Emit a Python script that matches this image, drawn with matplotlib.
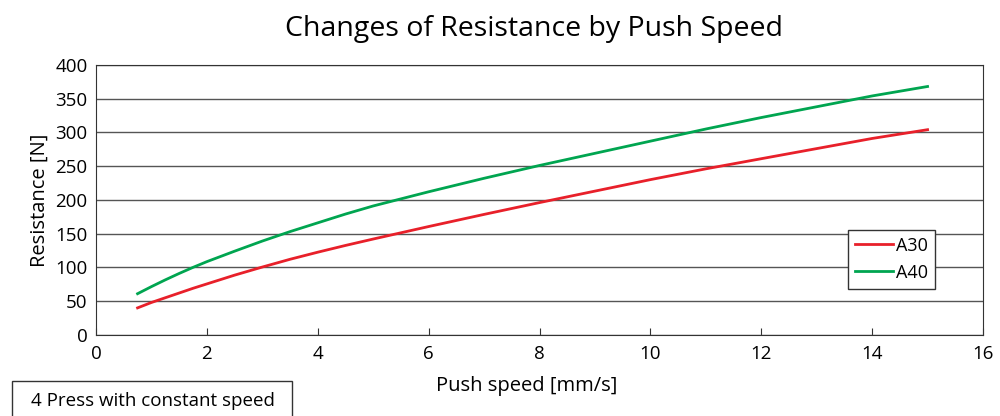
import matplotlib
matplotlib.use("Agg")
import matplotlib.pyplot as plt
from matplotlib.patches import Rectangle

plt.rcParams["font.family"] = ["Open Sans", "DejaVu Sans"]

# Values
speed = [0.75, 1.0, 1.25, 1.5, 1.75, 2, 2.5, 3, 3.5, 4, 4.5, 5, 6, 7, 8, 9, 10, 11, 12, 13, 14, 15]
a30 = [40, 48, 55, 62, 69, 75.5, 88.5, 100.5, 112, 122.5, 132.5, 142, 160.5, 178.5, 196, 213, 230, 246, 261, 276, 291, 304]
a40 = [61, 71.5, 81.5, 91, 100, 108.5, 124, 139, 153, 166, 179, 191, 212, 232, 251, 269, 287, 305, 322, 338, 354, 368]

fig = plt.figure(figsize=(10, 4.16), dpi=100)
ax = fig.add_axes([0.096, 0.195, 0.887, 0.649])

ax.plot(speed, a30, color="#e8202a", linewidth=2, label="A30")
ax.plot(speed, a40, color="#00a550", linewidth=2, label="A40")

ax.set_xlim(0, 16)
ax.set_ylim(0, 400)
ax.set_xticks(range(0, 17, 2))
ax.set_yticks(range(0, 401, 50))
ax.yaxis.grid(True, color="#555555", linewidth=1)
ax.set_axisbelow(True)
ax.tick_params(axis="x", direction="in", length=5, color="#333333", labelsize=13.5, pad=7)
ax.tick_params(axis="y", length=0, labelsize=13.5, pad=6)
for s in ax.spines.values():
    s.set_color("#333333")

ax.set_xlabel("Push speed [mm/s]", fontsize=14.5)
ax.xaxis.set_label_coords(0.486, -0.153)
ax.set_ylabel("Resistance [N]", fontsize=14.5, labelpad=4)
fig.suptitle("Changes of Resistance by Push Speed", fontsize=20.5, x=0.534, y=0.965)

leg = ax.legend(loc="lower right", bbox_to_anchor=(0.946, 0.170), fontsize=13,
                frameon=True, fancybox=False, handlelength=2.1, handletextpad=0.15,
                borderpad=0.4, labelspacing=0.5, borderaxespad=0)
leg.get_frame().set_edgecolor("#333333")
leg.get_frame().set_linewidth(1)
leg.get_frame().set_alpha(1)

# note box at the bottom left
fig.patches.append(Rectangle((0.012, -0.01), 0.28, 0.094, transform=fig.transFigure,
                             facecolor="white", edgecolor="#333333", linewidth=1))
fig.text(0.031, 0.036, "4 Press with constant speed", fontsize=13.5, va="center")

fig.savefig("out.png", dpi=100)
